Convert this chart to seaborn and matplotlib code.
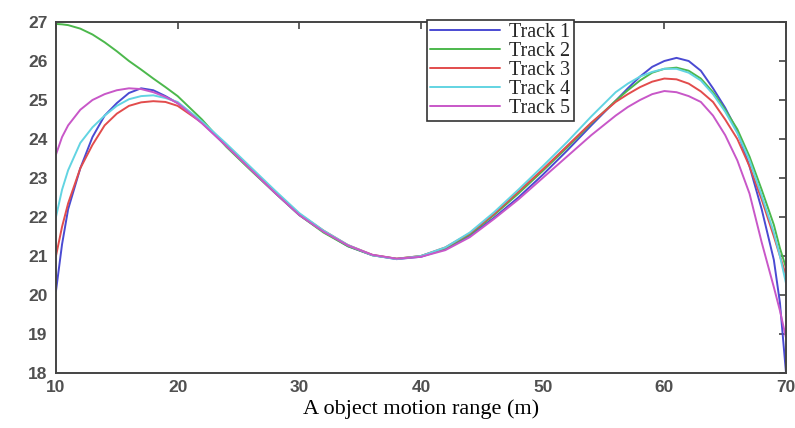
import matplotlib
matplotlib.use("Agg")
import matplotlib.pyplot as plt
import pandas as pd
import seaborn as sns

# 横轴采样点 (m)
x = [10, 10.5, 11, 12, 13, 14, 15, 16, 17, 18, 19, 20, 22, 24, 26, 28, 30, 32, 34, 36,
     38, 40, 42, 44, 46, 48, 50, 52, 54, 56, 57, 58, 59, 60, 61, 62, 63, 64, 65, 66,
     67, 68, 69, 69.5, 70]

track1 = [20.1, 21.3, 22.2, 23.25, 24.05, 24.6, 24.92, 25.18, 25.3, 25.25, 25.1, 24.92,
          24.42, 23.82, 23.22, 22.62, 22.05, 21.62, 21.25, 21.02, 20.92, 20.98, 21.18,
          21.52, 21.98, 22.5, 23.08, 23.7, 24.35, 24.98, 25.3, 25.6, 25.85, 26.0, 26.08,
          26.0, 25.75, 25.3, 24.8, 24.2, 23.3, 22.2, 20.9, 19.8, 18.0]
track2 = [26.95, 26.94, 26.92, 26.83, 26.68, 26.48, 26.25, 26.0, 25.78, 25.55, 25.33, 25.1,
          24.5, 23.8, 23.2, 22.62, 22.05, 21.6, 21.25, 21.02, 20.93, 21.0, 21.2, 21.55,
          22.05, 22.6, 23.18, 23.78, 24.4, 24.98, 25.25, 25.5, 25.7, 25.8, 25.83, 25.75,
          25.55, 25.2, 24.75, 24.25, 23.55, 22.7, 21.8, 21.2, 20.7]
track3 = [21.0, 21.75, 22.35, 23.25, 23.85, 24.35, 24.65, 24.85, 24.94, 24.97, 24.95, 24.85,
          24.42, 23.85, 23.25, 22.65, 22.08, 21.65, 21.28, 21.03, 20.93, 21.0, 21.22, 21.58,
          22.08, 22.65, 23.22, 23.82, 24.42, 24.95, 25.15, 25.33, 25.47, 25.55, 25.53, 25.42,
          25.22, 24.95, 24.5, 24.0, 23.3, 22.45, 21.5, 21.0, 20.5]
track4 = [22.0, 22.7, 23.2, 23.9, 24.3, 24.6, 24.85, 25.02, 25.1, 25.12, 25.05, 24.95,
          24.45, 23.88, 23.28, 22.68, 22.1, 21.65, 21.28, 21.02, 20.92, 21.0, 21.22, 21.6,
          22.12, 22.7, 23.3, 23.92, 24.58, 25.2, 25.42, 25.6, 25.72, 25.8, 25.8, 25.7,
          25.5, 25.15, 24.7, 24.15, 23.45, 22.55, 21.6, 21.0, 20.3]
track5 = [23.6, 24.05, 24.35, 24.75, 25.0, 25.15, 25.25, 25.3, 25.28, 25.2, 25.08, 24.92,
          24.4, 23.82, 23.22, 22.62, 22.05, 21.62, 21.27, 21.03, 20.93, 20.98, 21.15, 21.48,
          21.95, 22.45, 23.0, 23.55, 24.1, 24.6, 24.82, 25.0, 25.15, 25.23, 25.2, 25.1,
          24.95, 24.6, 24.1, 23.45, 22.6, 21.35, 20.2, 19.6, 18.9]

track_names = ['Track 1', 'Track 2', 'Track 3', 'Track 4', 'Track 5']
track_values = [track1, track2, track3, track4, track5]
colors = ['#4a4ad2', '#4cb84c', '#e24c4c', '#62d4e2', '#c857c8']

x_ticks = [10, 20, 30, 40, 50, 60, 70]
y_ticks = [18, 19, 20, 21, 22, 23, 24, 25, 26, 27]

# 整理为长表
frames = []
for name, vals in zip(track_names, track_values):
    frames.append(pd.DataFrame({'x': x, 'y': vals, 'track': name}))
df = pd.concat(frames, ignore_index=True)

sns.set_theme(style='white')
plt.rcParams['font.family'] = ['DejaVu Sans']

fig = plt.figure(figsize=(7.95, 4.28), dpi=100)
ax = fig.add_axes([0.0704, 0.1285, 0.9183, 0.8201])

sns.lineplot(data=df, x='x', y='y', hue='track', hue_order=track_names,
             palette=dict(zip(track_names, colors)), linewidth=1.4, ax=ax,
             estimator=None, sort=False)

ax.set_xlim(10, 70)
ax.set_ylim(18, 27)
ax.set_xticks(x_ticks)
ax.set_yticks(y_ticks)
ax.tick_params(direction='in', length=5, width=1.2, color='#444444',
               top=True, right=True, labelsize=12.5, labelcolor='#505050')
ax.tick_params(axis='x', pad=5)
ax.tick_params(axis='y', pad=6)
for lab in ax.get_xticklabels() + ax.get_yticklabels():
    lab.set_fontweight('bold')
    lab.set_family('Liberation Sans')
for sp in ax.spines.values():
    sp.set_visible(True)
    sp.set_color('#444444')
    sp.set_linewidth(1.4)

ax.set_xlabel('A object motion range (m)', fontsize=16, family='Liberation Serif',
              color='black', labelpad=3)
ax.set_ylabel('')

handles, labels = ax.get_legend_handles_labels()
leg = ax.legend(handles, labels, loc='upper left', bbox_to_anchor=(0.508, 1.006),
                borderaxespad=0, frameon=True, fancybox=False, handlelength=3.5,
                handletextpad=0.45, labelspacing=0.0, borderpad=0.15,
                prop={'family': 'Liberation Serif', 'size': 14.5})
leg.get_frame().set_edgecolor('#333333')
leg.get_frame().set_linewidth(1.2)
leg.get_frame().set_alpha(1)

fig.savefig('out.png', dpi=100)
